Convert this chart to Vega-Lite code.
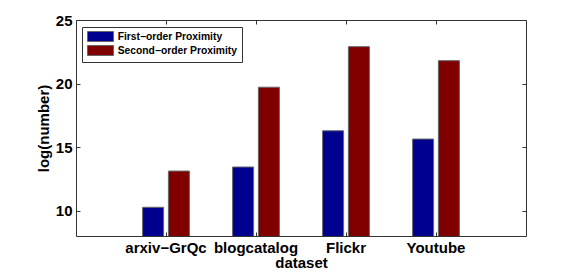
{
  "$schema": "https://vega.github.io/schema/vega-lite/v6.json",
  "width": 450,
  "height": 216,
  "autosize": "none",
  "padding": {"left": 76, "top": 20, "right": 55, "bottom": 38},
  "background": "white",
  "config": {
    "font": "Liberation Sans",
    "view": {"stroke": "#333333", "strokeWidth": 1},
    "axis": {
      "labelFont": "Liberation Sans",
      "labelFontWeight": "bold",
      "labelFontSize": 15,
      "labelColor": "black",
      "titleFont": "Liberation Sans",
      "titleFontWeight": "bold",
      "titleFontSize": 15,
      "titleColor": "black",
      "domainColor": "#333333",
      "tickColor": "#333333",
      "grid": false
    }
  },
  "data": {
    "values": [
      {"dataset": "arxiv−GrQc", "series": "First−order Proximity", "value": 10.26},
      {"dataset": "arxiv−GrQc", "series": "Second−order Proximity", "value": 13.11},
      {"dataset": "blogcatalog", "series": "First−order Proximity", "value": 13.43},
      {"dataset": "blogcatalog", "series": "Second−order Proximity", "value": 19.71},
      {"dataset": "Flickr", "series": "First−order Proximity", "value": 16.28},
      {"dataset": "Flickr", "series": "Second−order Proximity", "value": 22.9},
      {"dataset": "Youtube", "series": "First−order Proximity", "value": 15.63},
      {"dataset": "Youtube", "series": "Second−order Proximity", "value": 21.8}
    ]
  },
  "resolve": {"axis": {"x": "independent", "y": "independent"}},
  "layer": [
    {
      "mark": {"type": "bar", "stroke": "#666666", "strokeWidth": 1, "clip": true},
      "encoding": {
        "x": {
          "field": "dataset",
          "type": "nominal",
          "sort": null,
          "scale": {"paddingInner": 0, "paddingOuter": 0.5},
          "axis": {"orient": "bottom", "labelAngle": 0, "tickSize": -4, "labelPadding": 8, "titlePadding": 0, "title": "dataset", "domain": false}
        },
        "xOffset": {
          "field": "series",
          "type": "nominal",
          "sort": null,
          "scale": {"paddingInner": 0.186, "paddingOuter": 0.837}
        },
        "y": {
          "field": "value",
          "type": "quantitative",
          "scale": {"domain": [8, 25], "nice": false, "zero": false},
          "axis": {"orient": "left", "values": [10, 15, 20, 25], "tickSize": -4, "labelPadding": 8, "title": "log(number)", "titlePadding": 4, "domain": false}
        },
        "color": {
          "field": "series",
          "type": "nominal",
          "sort": null,
          "scale": {"range": ["#00008F", "#800000"]},
          "legend": {
            "title": null,
            "orient": "none",
            "legendX": 6,
            "legendY": 7,
            "padding": 4,
            "strokeColor": "#333333",
            "fillColor": "white",
            "symbolType": "M-2.6,-1H2.6V1H-2.6Z",
            "symbolSize": 100,
            "symbolStrokeColor": "#666666",
            "symbolStrokeWidth": 1,
            "symbolOffset": 9,
            "labelOffset": 11.7,
            "labelFont": "Liberation Sans",
            "labelFontWeight": "bold",
            "labelFontSize": 10.3,
            "labelColor": "black",
            "rowPadding": -1
          }
        }
      }
    },
    {
      "mark": {"type": "bar", "opacity": 0},
      "encoding": {
        "x": {
          "field": "dataset",
          "type": "nominal",
          "sort": null,
          "axis": {"orient": "top", "labels": false, "tickSize": -4, "title": null, "domain": false}
        },
        "xOffset": {"field": "series", "type": "nominal", "sort": null},
        "y": {
          "field": "value",
          "type": "quantitative",
          "axis": {"orient": "right", "values": [10, 15, 20, 25], "labels": false, "tickSize": -4, "title": null, "domain": false}
        }
      }
    }
  ]
}
